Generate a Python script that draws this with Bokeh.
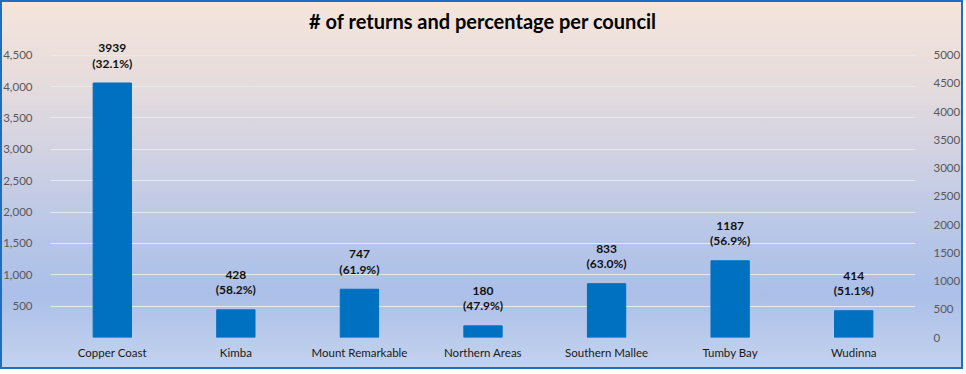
from bokeh.plotting import figure
from bokeh.models import ColumnDataSource, Range1d, LinearAxis, FixedTicker, NumeralTickFormatter, LabelSet
from bokeh.core.properties import value
from bokeh.embed import file_html
from bokeh.resources import INLINE

councils = ["Copper Coast", "Kimba", "Mount Remarkable", "Northern Areas",
            "Southern Mallee", "Tumby Bay", "Wudinna"]
returns = [3939, 428, 747, 180, 833, 1187, 414]
percentages = [32.1, 58.2, 61.9, 47.9, 63.0, 56.9, 51.1]
left_ticks = [500, 1000, 1500, 2000, 2500, 3000, 3500, 4000, 4500]
grid_ticks = [0, 500, 1000, 1500, 2000, 2500, 3000, 3500, 4000, 4500]
right_ticks = [0, 500, 1000, 1500, 2000, 2500, 3000, 3500, 4000, 4500, 5000]
left_max, right_max = 4500, 5000
bar_axis_max = 4370   # the bars in the source sit on their own (hidden) scale
headroom = 1.0555     # room above the top gridline for the data labels

count_labels = [str(r) for r in returns]
pct_labels = [f"({v:.1f}%)" for v in percentages]
src = ColumnDataSource(dict(council=councils, returns=returns,
                            count_label=count_labels, pct_label=pct_labels))

FONT = "Lato"

p = figure(x_range=councils, y_range=Range1d(0, left_max * headroom), width=963, height=369,
           output_backend="svg", toolbar_location=None,
           title="# of returns and percentage per council",
           min_border_left=49, min_border_right=45, min_border_top=35, min_border_bottom=32)

p.styles = {"background": "linear-gradient(to bottom, #F5E5DB 0%, #E8DDDC 20%, #D3D3E2 40%, #B9C7E7 62%, #ABBFE8 80%, #C4D3EE 100%)",
            "outline": "2px solid #1C6FC0", "outline-offset": "-2px"}
p.border_fill_color = None
p.background_fill_color = None
p.outline_line_color = None

p.title.text_font = FONT
p.title.text_font_size = "20px"
p.title.text_font_style = "bold"
p.title.text_color = "black"
p.title.align = "center"
p.title.standoff = 13

p.extra_y_ranges = {"right": Range1d(0, right_max * headroom),
                    "bars": Range1d(0, bar_axis_max * headroom)}

p.vbar(x="council", top="returns", width=0.31, color="#0070C0", source=src,
       y_range_name="bars")

for col, off in [("pct_label", 20), ("count_label", 35)]:
    ls = LabelSet(x="council", y="returns", text=col, source=src, y_range_name="bars",
                  text_font=value(FONT), text_font_size=value("12px"), text_font_style="bold",
                  text_color="#111111", text_align="center", text_baseline="middle",
                  y_offset=off, level="overlay")
    p.add_layout(ls)

rax = LinearAxis(y_range_name="right", ticker=FixedTicker(ticks=right_ticks))
p.add_layout(rax, "right")

p.yaxis[0].ticker = FixedTicker(ticks=left_ticks)
p.yaxis[0].formatter = NumeralTickFormatter(format="0,0")

for ax in [p.yaxis[0], rax, p.xaxis[0]]:
    ax.axis_line_color = None
    ax.major_tick_line_color = None
    ax.minor_tick_line_color = None
    ax.major_label_text_font = FONT
    ax.major_label_text_font_size = "11.5px"
    ax.major_label_text_color = "#595959"
    ax.major_label_standoff = 12

p.xaxis[0].major_label_text_color = "#1A1A1A"
p.xaxis[0].major_label_text_font_size = "11.5px"
p.xaxis[0].major_label_standoff = 2

p.xgrid.grid_line_color = None
p.ygrid.ticker = FixedTicker(ticks=grid_ticks)
p.ygrid.grid_line_color = "#E8E8F0"
p.ygrid.grid_line_width = 1

open("out.html", "w").write(file_html(p, INLINE))
